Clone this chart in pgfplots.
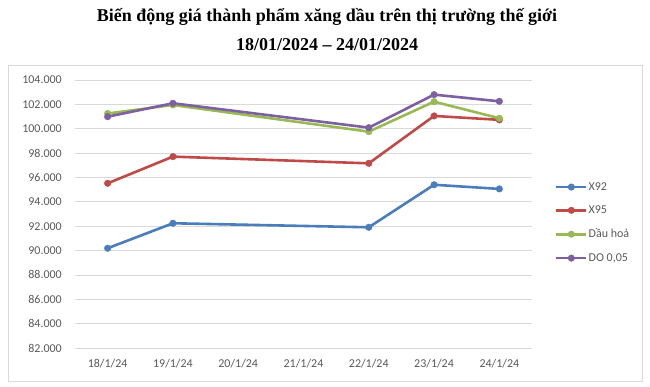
\documentclass[border=0pt]{standalone}
\usepackage{fontspec}
\setmainfont{Carlito}
\newfontfamily\titlefont{Liberation Serif}
\usepackage{pgfplots}
\pgfplotsset{compat=1.18}
\definecolor{cX92}{HTML}{4A7EBB}
\definecolor{cX95}{HTML}{BE4B48}
\definecolor{cDH}{HTML}{98B954}
\definecolor{cDO}{HTML}{7D60A0}
\definecolor{txt}{HTML}{595959}
\definecolor{gridc}{HTML}{D9D9D9}
\begin{document}
\begin{tikzpicture}
\useasboundingbox (0,0) rectangle (650pt,-386pt);
\draw[gridc, line width=0.8pt] (8pt,-65pt) rectangle (642pt,-381pt);
\node[font=\titlefont\bfseries\fontsize{18}{21}\selectfont, anchor=center] at (327pt,-17pt) {Biến động giá thành phẩm xăng dầu trên thị trường thế giới};
\node[font=\titlefont\bfseries\fontsize{18}{21}\selectfont, anchor=center] at (327pt,-45pt) {18/01/2024 – 24/01/2024};
\begin{axis}[
  at={(75pt,-348pt)}, anchor=south west,
  scale only axis, width=457pt, height=268pt,
  xmin=-0.5, xmax=6.5, ymin=82000, ymax=104000,
  xtick={0,...,6},
  xticklabels={18/1/24,19/1/24,20/1/24,21/1/24,22/1/24,23/1/24,24/1/24},
  ytick={82000,84000,...,104000},
  scaled y ticks=false,
  /pgf/number format/fixed,
  /pgf/number format/precision=0,
  /pgf/number format/1000 sep={.},
  /pgf/number format/assume math mode=true,
  ymajorgrids, grid style={gridc, line width=0.8pt},
  axis line style={draw=none},
  major tick length=0pt,
  tick label style={font=\fontsize{12}{14}\selectfont, text=txt},
  yticklabel style={anchor=east, inner sep=0pt, xshift=-13pt},
  xticklabel style={anchor=center, inner sep=0pt, yshift=-16pt},
  legend style={at={(1.05,0.468)}, anchor=west, draw=none, fill=none, inner sep=0pt,
    font=\fontsize{12}{14}\selectfont, text=txt, row sep=12pt,
    nodes={inner sep=1pt}},
  legend cell align=left,
  legend image code/.code={\draw[mark repeat=2,mark phase=2,#1] plot coordinates {(0pt,0pt) (15pt,0pt) (30pt,0pt)};},
  every axis plot/.append style={line width=2.6pt, mark=*, mark size=3.3pt},
]
\addplot[cX92, mark options={solid, fill=cX92, draw=cX92, line width=0.4pt}] coordinates {(0,90190) (1,92240) (4,91910) (5,95400) (6,95060)};
\addlegendentry{X92}
\addplot[cX95, mark options={solid, fill=cX95, draw=cX95, line width=0.4pt}] coordinates {(0,95520) (1,97710) (4,97160) (5,101050) (6,100730)};
\addlegendentry{X95}
\addplot[cDH, mark options={solid, fill=cDH, draw=cDH, line width=0.4pt}] coordinates {(0,101250) (1,101950) (4,99760) (5,102220) (6,100860)};
\addlegendentry{Dầu hoả}
\addplot[cDO, mark options={solid, fill=cDO, draw=cDO, line width=0.4pt}] coordinates {(0,100990) (1,102090) (4,100090) (5,102800) (6,102250)};
\addlegendentry{DO 0,05}
\end{axis}
\end{tikzpicture}
\end{document}
